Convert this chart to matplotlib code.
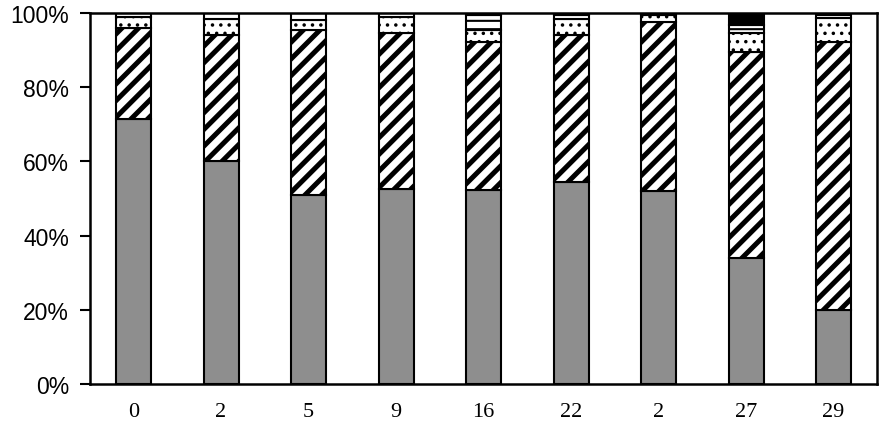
import numpy as np
import matplotlib
matplotlib.use("Agg")
import matplotlib.pyplot as plt
from matplotlib.ticker import PercentFormatter

labels = ["0", "2", "5", "9", "16", "22", "2", "27", "29"]
# layers bottom -> top, in percent
gray = [71.5, 60.0, 51.0, 52.5, 52.3, 54.5, 52.0, 34.0, 20.0]
diag = [24.5, 34.0, 44.3, 42.0, 40.0, 39.5, 45.7, 55.5, 72.3]
dots = [3.0, 4.5, 2.7, 4.5, 3.0, 4.5, 1.8, 5.0, 6.3]
lines = [1.0, 1.5, 2.0, 1.0, 4.2, 1.0, 0.5, 2.2, 1.0]
black = [0.0, 0.0, 0.0, 0.0, 0.5, 0.5, 0.0, 3.3, 0.0]

fig = plt.figure(figsize=(8.8, 4.39), dpi=100)
ax = fig.add_axes([0.102, 0.123, 0.895, 0.845])

x = np.arange(len(labels))
w = 0.4
bottom = np.zeros(len(labels))
layers = [
    (gray, "#8e8e8e", "", 1.0),
    (diag, "white", "//", 3.6),
    (dots, "white", "..", 1.3),
    (lines, "white", "--", 1.5),
    (black, "black", "", 1.0),
]
for vals, fc, hatch, hlw in layers:
    vals = np.array(vals)
    with plt.rc_context({"hatch.linewidth": hlw}):
        ax.bar(x, vals, w, bottom=bottom, color=fc, edgecolor="black",
               linewidth=1.5, hatch=hatch)
    bottom += vals

ax.set_xlim(-0.5, len(labels) - 0.5)
ax.set_ylim(0, 100)
ax.set_yticks(np.arange(0, 101, 20))
ax.yaxis.set_major_formatter(PercentFormatter(decimals=0))
ax.set_xticks(x)
ax.set_xticklabels(labels, family="Liberation Serif", fontsize=16)
ax.tick_params(axis="x", length=0, pad=13)
ax.tick_params(axis="y", length=7, width=1.5, direction="out", pad=8)
for lab in ax.get_yticklabels():
    lab.set_family("Liberation Sans")
    lab.set_fontsize(16.5)
for s in ax.spines.values():
    s.set_linewidth(1.8)

fig.savefig("out.png", dpi=100)
